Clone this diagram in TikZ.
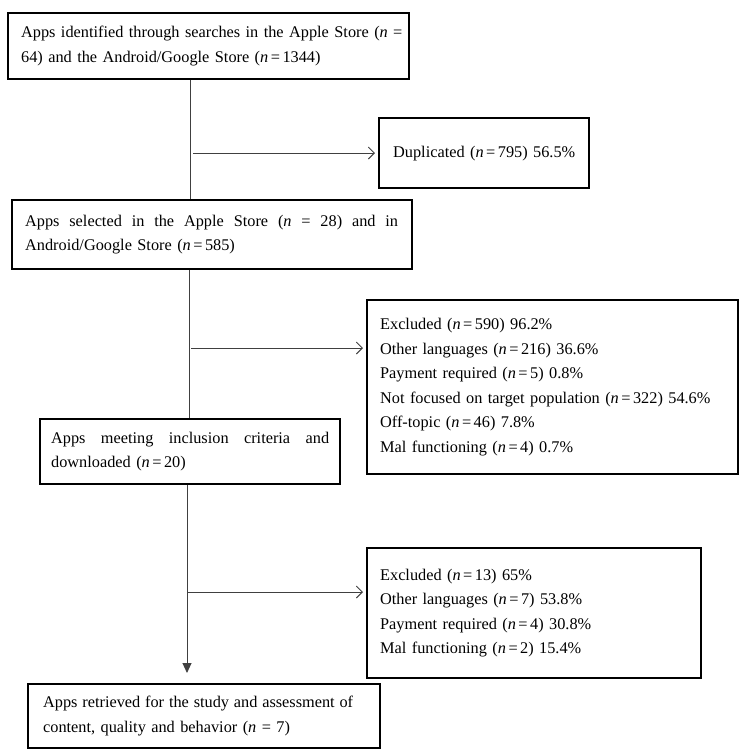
\documentclass[tikz,border=0pt]{standalone}
\usepackage{fontspec}
\setmainfont{Liberation Serif}
\usetikzlibrary{arrows.meta}
\newcommand{\nn}{\textit{n}\kern2.5pt=\kern2.5pt}
\newcommand{\nw}{\textit{n}}
\begin{document}
\begin{tikzpicture}[x=1pt,y=-1pt,
  box/.style={draw=black, line width=2.3pt, rectangle, anchor=north west,
    align=left, font=\fontsize{16.3}{24.5}\selectfont, text=black},
  conn/.style={draw=black!75, line width=0.9pt},
  sidearrow/.style={conn, -{Straight Barb[length=6pt,width=12pt,line width=0.9pt]}, shorten >=3pt},
  downarrow/.style={conn, -{Triangle[length=10pt,width=9pt]}, shorten >=10pt}]
\useasboundingbox (0,0) rectangle (746,756);

% main boxes
\node[box, minimum width=401pt, minimum height=66pt, inner xsep=13pt, text width=375pt] (b1) at (7,12)
  {\makebox[375pt][l]{Apps identified through searches in the Apple Store (\nw{} =}\\64) and the Android/Google Store (\nn1344)};
\node[box, minimum width=210pt, minimum height=70pt, inner xsep=14pt, text width=182pt] (dup) at (378,117)
  {\makebox[182pt][l]{Duplicated (\nn795) 56.5\%}};
\node[box, minimum width=400pt, minimum height=69pt, inner xsep=13pt, text width=374pt] (b2) at (11,199)
  {\makebox[373pt][l]{Apps\hfill selected\hfill in\hfill the\hfill Apple\hfill Store\hfill (\nw\hfill =\hfill 28)\hfill and\hfill in}\\Android/Google Store (\nn585)};
\node[box, minimum width=371pt, minimum height=174pt, inner xsep=13pt, text width=345pt] (ex1) at (366,299)
  {Excluded (\nn590) 96.2\%\\Other languages (\nn216) 36.6\%\\Payment required (\nn5) 0.8\%\\\makebox[345pt][l]{Not focused on target population (\nn322) 54.6\%}\\Off-topic (\nn46) 7.8\%\\Mal functioning (\nn4) 0.7\%};
\node[box, minimum width=300pt, minimum height=65pt, inner xsep=11pt, text width=278pt] (b3) at (39,418)
  {\makebox[278pt][l]{Apps\hfill meeting\hfill inclusion\hfill criteria\hfill and}\\downloaded (\nn20)};
\node[box, minimum width=334pt, minimum height=130pt, inner xsep=13pt, text width=308pt] (ex2) at (366,547)
  {Excluded (\nn13) 65\%\\Other languages (\nn7) 53.8\%\\Payment required (\nn4) 30.8\%\\Mal functioning (\nn2) 15.4\%};
\node[box, minimum width=352pt, minimum height=64pt, inner xsep=15pt, text width=322pt] (b4) at (27,683)
  {\makebox[310pt][l]{Apps\hfill retrieved\hfill for\hfill the\hfill study\hfill and\hfill assessment\hfill of}\\content, quality and behavior (\nw{} = 7)};

% connector coordinates
\coordinate (c1) at (190,0);
\coordinate (c2) at (189,0);
\coordinate (c3) at (187,0);
\coordinate (a1) at (193,153);
\coordinate (a2) at (191,348);
\coordinate (a3) at (188,592);

% vertical connectors
\draw[conn] (b1.south -| c1) -- (b2.north -| c1);
\draw[conn] (b2.south -| c2) -- (b3.north -| c2);
\draw[downarrow] (b3.south -| c3) -- (b4.north -| c3);

% side arrows
\draw[sidearrow] (a1) -- (dup.west |- a1);
\draw[sidearrow] (a2) -- (ex1.west |- a2);
\draw[sidearrow] (a3) -- (ex2.west |- a3);
\end{tikzpicture}
\end{document}
